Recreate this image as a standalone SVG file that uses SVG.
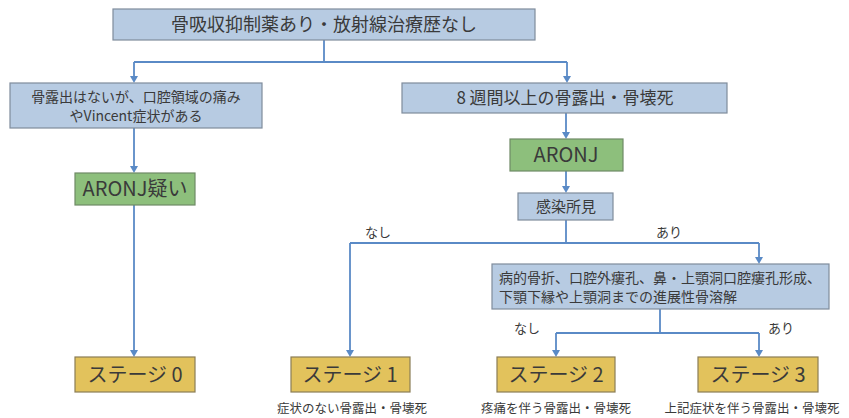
<svg xmlns="http://www.w3.org/2000/svg" width="849" height="418" viewBox="0 0 849 418">
<style>
.blue{fill:#b7cbe2;stroke:#7f8c9c;stroke-width:1.2}
.green{fill:#8dbf7c;stroke:#6f8a66;stroke-width:1.2}
.yel{fill:#e2c25c;stroke:#8b7d55;stroke-width:1.2}
text{font-family:"Noto Sans CJK JP","Noto Sans",sans-serif;fill:#3a3a3a;text-anchor:middle}
.t18{font-size:18px}
.t17{font-size:17px}
.t15{font-size:15px}
.t14{font-size:14px}
.t20{font-size:20px}
.cap{font-size:12.5px}
.lbl{font-size:13px}
.ln{fill:none;stroke:#5a8ac6;stroke-width:1.8}
.ah{fill:#5a8ac6}
</style>
<g id="connectors">
<path class="ln" d="M324,40 V62"/>
<path class="ln" d="M134,62 H567"/>
<path class="ln" d="M134,62 V76"/>
<path class="ah" d="M130,76 L138,76 L134,83 Z"/>
<path class="ln" d="M567,62 V76"/>
<path class="ah" d="M563,76 L571,76 L567,83 Z"/>
<path class="ln" d="M134,128 V166"/>
<path class="ah" d="M130,166 L138,166 L134,173 Z"/>
<path class="ln" d="M134,205 V350"/>
<path class="ah" d="M130,350 L138,350 L134,357 Z"/>
<path class="ln" d="M566,113 V132"/>
<path class="ah" d="M562,132 L570,132 L566,139 Z"/>
<path class="ln" d="M566,171 V186"/>
<path class="ah" d="M562,186 L570,186 L566,193 Z"/>
<path class="ln" d="M566,220 V243"/>
<path class="ln" d="M350,243 H759"/>
<path class="ln" d="M350,243 V350"/>
<path class="ah" d="M346,350 L354,350 L350,357 Z"/>
<path class="ln" d="M759,243 V257"/>
<path class="ah" d="M755,257 L763,257 L759,264 Z"/>
<path class="ln" d="M660,309 V333"/>
<path class="ln" d="M556,333 H759"/>
<path class="ln" d="M556,333 V350"/>
<path class="ah" d="M552,350 L560,350 L556,357 Z"/>
<path class="ln" d="M759,333 V350"/>
<path class="ah" d="M755,350 L763,350 L759,357 Z"/>
<text class="lbl" x="378" y="237">なし</text>
<text class="lbl" x="669" y="237">あり</text>
<text class="lbl" x="527" y="333">なし</text>
<text class="lbl" x="781" y="333">あり</text>
</g>
<g id="top">
<rect class="blue" x="113" y="9" width="422" height="31"/>
<text class="t18" x="324" y="31">骨吸収抑制薬あり・放射線治療歴なし</text>
</g>
<g id="noexposure">
<rect class="blue" x="10" y="83" width="252" height="45"/>
<text class="t14" x="136" y="102">骨露出はないが、口腔領域の痛み</text>
<text class="t14" x="136" y="121">やVincent症状がある</text>
</g>
<g id="exposure8w">
<rect class="blue" x="402" y="83" width="325" height="30"/>
<text class="t17" x="565" y="104">8 週間以上の骨露出・骨壊死</text>
</g>
<g id="suspect">
<rect class="green" x="75" y="173" width="120" height="32"/>
<text class="t20" x="135" y="196">ARONJ疑い</text>
</g>
<g id="aronj">
<rect class="green" x="510" y="139" width="113" height="32"/>
<text class="t20" x="566" y="162">ARONJ</text>
</g>
<g id="infection">
<rect class="blue" x="518" y="193" width="95" height="27"/>
<text class="t15" x="566" y="212">感染所見</text>
</g>
<g id="severe">
<rect class="blue" x="492" y="264" width="337" height="45"/>
<text class="t14" x="499" y="283" style="text-anchor:start">病的骨折、口腔外瘻孔、鼻・上顎洞口腔瘻孔形成、</text>
<text class="t14" x="499" y="302" style="text-anchor:start">下顎下縁や上顎洞までの進展性骨溶解</text>
</g>
<g id="stage0">
<rect class="yel" x="75" y="357" width="120" height="35"/>
<text class="t20" x="135" y="382">ステージ 0</text>
</g>
<g id="stage1">
<rect class="yel" x="291" y="357" width="119" height="35"/>
<text class="t20" x="350" y="382">ステージ 1</text>
<text class="cap" x="352" y="413">症状のない骨露出・骨壊死</text>
</g>
<g id="stage2">
<rect class="yel" x="497" y="357" width="118" height="35"/>
<text class="t20" x="556" y="382">ステージ 2</text>
<text class="cap" x="556" y="413">疼痛を伴う骨露出・骨壊死</text>
</g>
<g id="stage3">
<rect class="yel" x="698" y="357" width="120" height="35"/>
<text class="t20" x="758" y="382">ステージ 3</text>
<text class="cap" x="752" y="413">上記症状を伴う骨露出・骨壊死</text>
</g>
</svg>
